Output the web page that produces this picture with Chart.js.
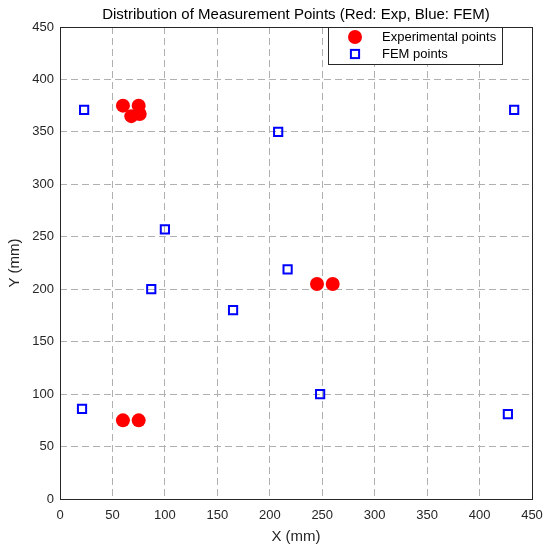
<!DOCTYPE html>
<html>
<head>
<meta charset="utf-8">
<script src="https://cdn.jsdelivr.net/npm/chart.js@4"></script>
<style>
html,body{margin:0;padding:0;background:#fff;}
#wrap{width:550px;height:553px;position:relative;}
</style>
</head>
<body>
<div id="wrap"><canvas id="c" width="550" height="553"></canvas></div>
<script>
const titleText = "Distribution of Measurement Points (Red: Exp, Blue: FEM)";
const xLabel = "X (mm)";
const yLabel = "Y (mm)";
const expLabel = "Experimental points";
const femLabel = "FEM points";
const expX = [60, 75, 68, 76, 60, 75, 245, 260];
const expY = [375, 375, 365, 367, 75, 75, 205, 205];
const femX = [23, 208, 433, 100, 87, 165, 217, 21, 248, 427];
const femY = [371, 350, 371, 257, 200, 180, 219, 86, 100, 81];
const axisMin = 0, axisMax = 450, axisStep = 50;

const FONT = "'Liberation Sans', Arial, Helvetica, sans-serif";
const TXT = "#262626";

function pts(xs, ys){ return xs.map((x,i)=>({x:x, y:ys[i]})); }

const overlay = {
  id: 'overlay',
  afterDraw(chart){
    const ctx = chart.ctx, a = chart.chartArea;
    ctx.save();
    ctx.strokeStyle = TXT; ctx.lineWidth = 1; ctx.setLineDash([]);
    ctx.strokeRect(Math.round(a.left)+0.5, Math.round(a.top)+0.5, Math.round(a.right-a.left), Math.round(a.bottom-a.top));
    ctx.fillStyle = "#000";
    ctx.font = "15px " + FONT;
    ctx.textAlign = "center"; ctx.textBaseline = "middle";
    ctx.fillText(titleText, (a.left+a.right)/2, 15);
    ctx.fillStyle = TXT;
    ctx.font = "15px " + FONT;
    ctx.fillText(xLabel, (a.left+a.right)/2, 537);
    ctx.save();
    ctx.translate(15, (a.top+a.bottom)/2);
    ctx.rotate(-Math.PI/2);
    ctx.fillText(yLabel, 0, 0);
    ctx.restore();
    const lx = 328, ly = a.top, lw = 174, lh = 37;
    ctx.fillStyle = "#fff";
    ctx.fillRect(lx, ly, lw, lh);
    ctx.strokeStyle = "#262626"; ctx.lineWidth = 1;
    ctx.strokeRect(lx+0.5, ly+0.5, lw, lh);
    const d0 = chart.data.datasets[0], d1 = chart.data.datasets[1];
    ctx.beginPath(); ctx.fillStyle = d0.backgroundColor;
    ctx.arc(355, ly+10, d0.pointRadius, 0, Math.PI*2); ctx.fill();
    const s = Math.SQRT1_2 * d1.pointRadius;
    ctx.strokeStyle = d1.borderColor; ctx.lineWidth = d1.borderWidth;
    ctx.strokeRect(355-s, ly+27-s, 2*s, 2*s);
    ctx.fillStyle = "#000";
    ctx.font = "13px " + FONT;
    ctx.textAlign = "left";
    ctx.fillText(expLabel, 382, ly+10);
    ctx.fillText(femLabel, 382, ly+27);
    ctx.restore();
  }
};

new Chart(document.getElementById('c'), {
  type: 'scatter',
  data: {
    datasets: [
      { label: expLabel, data: pts(expX, expY), pointStyle: 'circle', pointRadius: 7, pointHoverRadius: 7,
        backgroundColor: '#ff0000', borderColor: '#ff0000', borderWidth: 0 },
      { label: femLabel, data: pts(femX, femY), pointStyle: 'rect', pointRadius: 5.8, pointHoverRadius: 5.8,
        backgroundColor: 'rgba(255,255,255,0)', borderColor: '#0000ff', borderWidth: 2 }
    ]
  },
  options: {
    responsive: false,
    animation: false,
    events: [],
    layout: { padding: { top: 27, right: 18, left: 0, bottom: 0 } },
    plugins: { legend: { display: false }, title: { display: false }, tooltip: { enabled: false } },
    scales: {
      x: {
        type: 'linear', min: axisMin, max: axisMax,
        afterFit(s){ s.height = 54; s.paddingLeft = 0; s.paddingRight = 0; },
        ticks: { stepSize: axisStep, color: TXT, font: { family: FONT, size: 13 }, padding: 9, maxRotation: 0 },
        grid: { color: '#b0b0b0', lineWidth: 1, drawTicks: false, tickLength: 0 },
        border: { display: false, dash: [7,4] }
      },
      y: {
        type: 'linear', min: axisMin, max: axisMax,
        afterFit(s){ s.width = 60; s.paddingTop = 0; s.paddingBottom = 0; },
        ticks: { stepSize: axisStep, color: TXT, font: { family: FONT, size: 13 }, padding: 6 },
        grid: { color: '#b0b0b0', lineWidth: 1, drawTicks: false, tickLength: 0 },
        border: { display: false, dash: [7,4] }
      }
    }
  },
  plugins: [overlay]
});
</script>
</body>
</html>
